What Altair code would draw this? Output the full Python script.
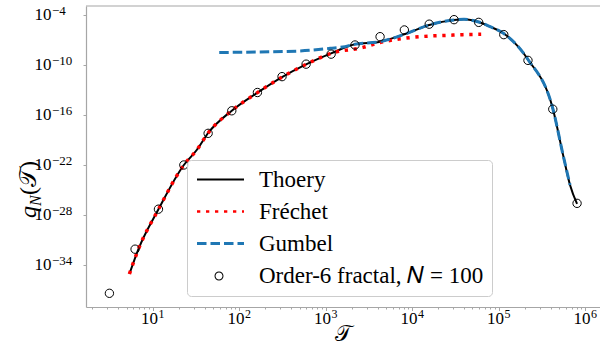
import math

import altair as alt
import pandas as pd

# ---- data -----------------------------------------------------------------
# Exact theory curve
theory_T = [5.4, 6.85, 11.7, 23.0, 32.4, 43.9, 82.4, 163, 314, 596, 1160, 2190,
            4270, 8300, 15800, 30600, 39900, 59000, 79800, 115000, 219000,
            424000, 561000, 671000, 809000]
theory_q = [8.3e-36, 7.6e-33, 4.8e-28, 1.0e-22, 6.3e-21, 6.9e-19, 3.3e-16,
            4.8e-14, 3.6e-12, 1.2e-10, 2.5e-9, 3.0e-8, 6.3e-8, 5.2e-7, 6.3e-6,
            2.5e-5, 3.0e-5, 1.45e-5, 4.0e-6, 6.0e-7, 4.6e-10, 6.0e-16, 1.2e-21,
            4.0e-25, 2.1e-27]

# Frechet approximation
frechet_T = [5.4, 6.85, 11.7, 23.0, 32.4, 43.9, 82.4, 163, 314, 596, 1160, 2720,
             4270, 6650, 10300, 16100, 25200, 38900, 63000]
frechet_q = [8.3e-36, 7.6e-33, 4.8e-28, 1.0e-22, 6.3e-21, 6.9e-19, 3.3e-16,
             4.8e-14, 3.6e-12, 1.2e-10, 2.5e-9, 1.3e-8, 5.0e-8, 1.2e-7, 2.1e-7,
             3.0e-7, 3.6e-7, 4.4e-7, 4.8e-7]

# Gumbel approximation
gumbel_T = [59, 175, 507, 1130, 1680, 2190, 4270, 8300, 15800, 30600, 39900,
            59000, 79800, 115000, 219000, 424000, 561000, 671000]
gumbel_q = [3.2e-9, 3.6e-9, 4.8e-9, 1.0e-8, 1.6e-8, 3.2e-8, 6.3e-8, 5.2e-7,
            6.3e-6, 2.5e-5, 3.0e-5, 1.45e-5, 4.0e-6, 6.0e-7, 4.6e-10, 6.0e-16,
            1.2e-21, 4.0e-25]

# Simulation on the order-6 fractal
fractal_T = [3.17, 6.28, 11.7, 23.0, 43.9, 82.4, 163, 314, 596, 1160, 2190,
             4270, 8150, 15800, 30600, 59000, 115000, 219000, 424000, 809000]
fractal_q = [4.0e-38, 7.9e-33, 5.0e-28, 1.0e-22, 6.3e-19, 3.2e-16, 5.0e-14,
             4.0e-12, 1.26e-10, 2.0e-9, 2.5e-8, 2.5e-7, 1.6e-6, 7.9e-6, 2.75e-5,
             1.3e-5, 4.4e-7, 3.6e-10, 5.0e-16, 2.5e-27]

SERIES = ["Thoery", "Fréchet", "Gumbel", "Order-6 fractal, 𝑁 = 100"]
STROKES = ["#000000", "#ff0000", "#1f77b4", "transparent"]
FILLS = ["transparent", "transparent", "transparent", "#000000"]
DASHES = [[1, 0], [3.3, 5.7], [9.5, 4], [1, 0]]
WIDTHS = [2, 3.5, 3, 0]

X_MAJOR = [10, 100, 1000, 1e4, 1e5, 1e6]
X_MINOR = [m * 10 ** k for k in range(0, 6) for m in range(2, 10)]
Y_MAJOR = [1e-34, 1e-28, 1e-22, 1e-16, 1e-10, 1e-4]

FONT = "Liberation Serif"
SPINE = "#a6a6a6"
W, H = 514, 301

theory_df = pd.DataFrame({"T": theory_T, "q": theory_q})
frechet_df = pd.DataFrame({"T": frechet_T, "q": frechet_q})
gumbel_df = pd.DataFrame({"T": gumbel_T, "q": gumbel_q})
fractal_df = pd.DataFrame({"T": fractal_T, "q": fractal_q})
legend_df = pd.DataFrame({"T": pd.Series([], dtype=float),
                          "q": pd.Series([], dtype=float),
                          "series": pd.Series([], dtype=str)})


def exponent(v):
    return str(int(round(math.log10(v)))).replace("-", "\u2212")


# tick-label exponents, drawn as raised text next to each "10"
x_exp_df = pd.DataFrame({"T": X_MAJOR, "exp": [exponent(v) for v in X_MAJOR]})
y_exp_df = pd.DataFrame({"q": Y_MAJOR, "exp": [exponent(v) for v in Y_MAJOR]})

# ---- axes -----------------------------------------------------------------
major_test = "indexof([" + ",".join(f"{v:g}" for v in X_MAJOR) + "], datum.value) >= 0"

x_enc = alt.X(
    "T:Q",
    scale=alt.Scale(type="log", domain=[1.70, 1.49e6], nice=False),
    axis=alt.Axis(
        values=sorted(X_MAJOR + X_MINOR),
        labelExpr=f"{major_test} ? '10' : ''",
        tickSize={"condition": {"test": major_test, "value": 3.5}, "value": 2},
        labelPadding=0,
        labelOffset=-3.5,
        labelFontSize=17,
        labelOverlap=False,
        labelFlush=False,
        title=None,
    ),
)
y_enc = alt.Y(
    "q:Q",
    scale=alt.Scale(type="log", domain=[9.1e-40, 1.2e-3], nice=False),
    axis=alt.Axis(
        values=Y_MAJOR,
        labelExpr="'10'",
        tickSize=3,
        labelPadding=32,
        labelFontSize=17,
        labelOverlap=False,
        labelFlush=False,
        title=None,
    ),
)

# ---- legend: custom symbol paths (a short line sample, or a ring) ---------
LINE_PATH = "M-1,0H3.7"
RING_PATH = ("M1.65,0A0.45,0.45,0,1,1,0.75,0A0.45,0.45,0,1,1,1.65,0Z"
             "M1.55,0A0.35,0.35,0,1,0,0.85,0A0.35,0.35,0,1,0,1.55,0Z")

legend = alt.Legend(
    orient="none",
    legendX=101,
    legendY=154,
    title=None,
    symbolSize=400,
    symbolOpacity=1,
    labelFont=FONT,
    labelFontSize=23,
    labelColor="black",
    labelOffset=40,
    labelLimit=400,
    rowPadding=8,
    padding=8,
    fillColor="rgba(255,255,255,0.8)",
    strokeColor="#cccccc",
    cornerRadius=4,
)

key = legend_df.columns[2]
legend_layer = alt.Chart(legend_df).mark_point(
    size=400, opacity=1, filled=True, strokeCap="butt"
).encode(
    x=x_enc,
    y=y_enc,
    stroke=alt.Stroke(f"{key}:N", scale=alt.Scale(domain=SERIES, range=STROKES), legend=legend),
    fill=alt.Fill(f"{key}:N", scale=alt.Scale(domain=SERIES, range=FILLS), legend=legend),
    shape=alt.Shape(f"{key}:N", scale=alt.Scale(domain=SERIES,
                    range=[LINE_PATH, LINE_PATH, LINE_PATH, RING_PATH]), legend=legend),
    strokeDash=alt.StrokeDash(f"{key}:N", scale=alt.Scale(domain=SERIES, range=DASHES), legend=legend),
    strokeWidth=alt.StrokeWidth(f"{key}:N", scale=alt.Scale(domain=SERIES, range=WIDTHS), legend=legend),
)

# ---- marks ----------------------------------------------------------------
theory = alt.Chart(theory_df).mark_line(
    color="#000000", strokeWidth=2, interpolate="monotone", clip=True
).encode(x=x_enc, y=y_enc)

frechet = alt.Chart(frechet_df).mark_line(
    color="#ff0000", strokeWidth=3.5, strokeDash=[3.3, 5.7], strokeCap="butt",
    interpolate="monotone", clip=True
).encode(x=x_enc, y=y_enc)

gumbel = alt.Chart(gumbel_df).mark_line(
    color="#1f77b4", strokeWidth=3, strokeDash=[9.5, 4], strokeCap="butt",
    interpolate="monotone", clip=True
).encode(x=x_enc, y=y_enc)

fractal = alt.Chart(fractal_df).mark_point(
    shape="circle", filled=False, size=70, strokeWidth=1, opacity=1, color="#000000"
).encode(x=x_enc, y=y_enc)

x_exp = alt.Chart(x_exp_df).mark_text(
    font=FONT, fontSize=12, align="left", baseline="alphabetic", dx=6,
    color="black"
).encode(x=x_enc, y=alt.value(H + 11), text="exp:N")

y_exp = alt.Chart(y_exp_df).mark_text(
    font=FONT, fontSize=13, align="left", baseline="alphabetic", color="black"
).encode(x=alt.value(-34), y=y_enc, text="exp:N")

anchor = pd.DataFrame({"k": [0]})

top_spine = alt.Chart(anchor).mark_rule(color=SPINE, strokeWidth=1.2).encode(
    x=alt.value(0), x2=alt.value(W), y=alt.value(0)
)

x_title = alt.Chart(anchor).mark_text(
    text="𝒯", font=FONT, fontSize=22, align="center", baseline="middle"
).encode(x=alt.value(W / 2), y=alt.value(328))

y_q = alt.Chart(anchor).mark_text(
    text="q", font=FONT, fontStyle="italic", fontSize=24, angle=270,
    align="left", baseline="alphabetic"
).encode(x=alt.value(-50), y=alt.value(212))
y_n = alt.Chart(anchor).mark_text(
    text="N", font=FONT, fontStyle="italic", fontSize=16, angle=270,
    align="left", baseline="alphabetic"
).encode(x=alt.value(-45), y=alt.value(200))
y_t = alt.Chart(anchor).mark_text(
    text="(𝒯)", font=FONT, fontSize=24, angle=270,
    align="left", baseline="alphabetic"
).encode(x=alt.value(-50), y=alt.value(189))

chart = alt.layer(
    theory, frechet, gumbel, fractal, legend_layer, x_exp, y_exp, top_spine,
    x_title, y_q, y_n, y_t
).properties(
    width=W,
    height=H,
    autosize=alt.AutoSizeParams(type="none"),
    padding={"left": 86, "top": 6, "right": 0, "bottom": 42},
).configure_view(
    stroke=None
).configure_axis(
    grid=False,
    domainColor=SPINE,
    domainWidth=1.2,
    tickColor=SPINE,
    tickWidth=1,
    labelFont=FONT,
    labelColor="black",
)

chart.save("out.html", embed_options={"renderer": "svg", "actions": False})
